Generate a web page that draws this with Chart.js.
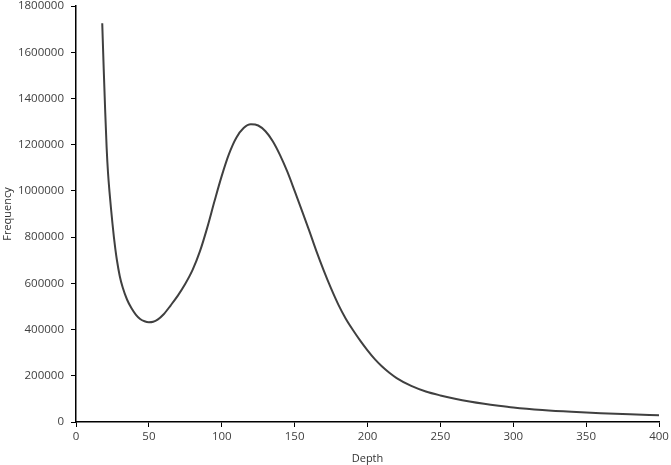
<!DOCTYPE html>
<html>
<head>
<meta charset="utf-8">
<script src="https://cdn.jsdelivr.net/npm/chart.js@4/dist/chart.umd.min.js"></script>
<style>
html,body{margin:0;padding:0;background:#fff;}
#wrap{width:671px;height:465px;position:relative;}
</style>
</head>
<body>
<div id="wrap"><canvas id="c" width="671" height="465"></canvas></div>
<script>
const depths = [18,19,20,21,22,23,24,25,26,27,28,30,32,35,38,41,44,47,50,53,56,60,65,70,75,80,85,90,95,100,105,110,115,120,125,130,135,140,145,150,155,160,165,170,175,180,185,190,195,200,205,210,215,220,230,240,250,260,270,280,290,300,320,340,360,380,400];
const frequencies = [1725000,1530000,1350000,1190000,1075000,995000,925000,860000,800000,748000,703000,632000,583000,530000,493000,465000,446000,436000,432000,434000,443000,465000,505000,548000,598000,658000,738000,840000,955000,1065000,1160000,1230000,1272000,1288000,1283000,1258000,1215000,1155000,1083000,1000000,915000,828000,738000,655000,578000,508000,448000,398000,352000,310000,272000,240000,213000,190000,156000,132000,115000,101000,89000,79000,70500,63000,52000,44000,38000,33000,29000];
const xTicks = [0,50,100,150,200,250,300,350,400];
const yTicks = [0,200000,400000,600000,800000,1000000,1200000,1400000,1600000,1800000];

const points = depths.map((d,i)=>({x:d,y:frequencies[i]}));
const font = {family:"'Open Sans', 'Liberation Sans', sans-serif", size:11.5};
const titleFont = {family:"'Open Sans', 'Liberation Sans', sans-serif", size:11};

new Chart(document.getElementById('c'), {
  type:'line',
  data:{datasets:[{data:points,borderColor:'#404040',borderWidth:2,pointRadius:0,cubicInterpolationMode:'monotone',fill:false}]},
  options:{
    responsive:false,animation:false,
    layout:{padding:{top:6,right:12,left:0,bottom:0}},
    plugins:{legend:{display:false},tooltip:{enabled:false}},
    scales:{
      x:{type:'linear',min:0,max:400,
        afterBuildTicks:s=>{s.ticks=xTicks.map(v=>({value:v}));},
        afterFit:s=>{s.height=43;s.paddingLeft=0;s.paddingRight=0;},
        ticks:{color:'#404040',font:font,padding:3,maxRotation:0},
        grid:{display:true,drawOnChartArea:false,color:'#000',tickLength:5,tickWidth:1},
        border:{color:'#000',width:1.5},
        title:{display:true,text:'Depth',color:'#333',font:titleFont,padding:{top:1,bottom:0}}
      },
      y:{type:'linear',min:0,max:1800000,
        afterBuildTicks:s=>{s.ticks=yTicks.map(v=>({value:v}));},
        afterFit:s=>{s.width=76;s.paddingTop=0;s.paddingBottom=0;},
        ticks:{color:'#404040',font:font,padding:7,callback:v=>String(v)},
        grid:{display:true,drawOnChartArea:false,color:'#000',tickLength:5,tickWidth:1},
        border:{color:'#000',width:1.5},
        title:{display:true,text:'Frequency',color:'#333',font:titleFont,padding:{top:1,bottom:0}}
      }
    }
  }
});
</script>
</body>
</html>
